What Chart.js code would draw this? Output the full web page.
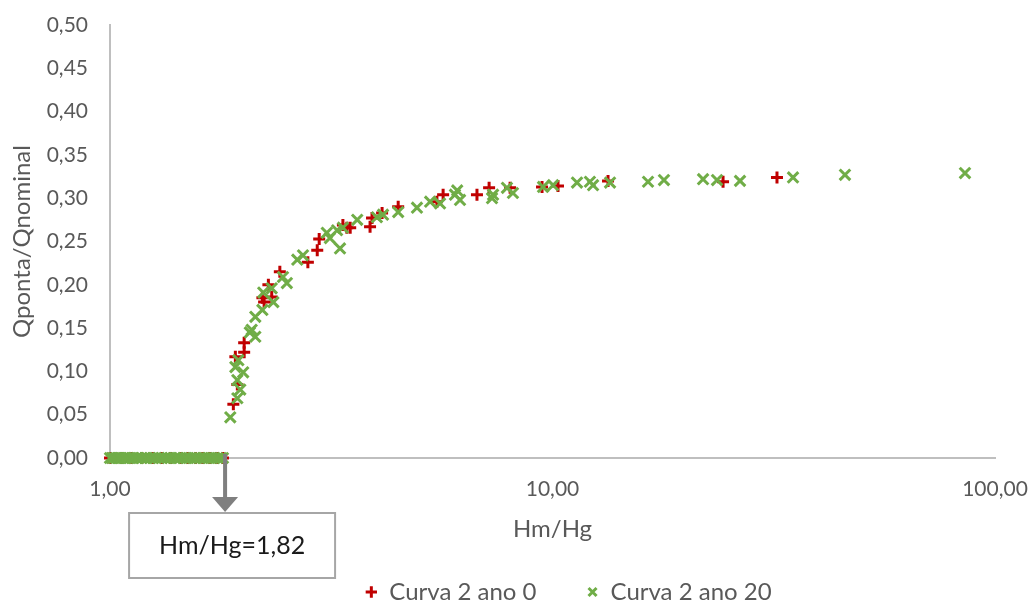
<!DOCTYPE html>
<html>
<head>
<meta charset="utf-8">
<script src="https://cdn.jsdelivr.net/npm/chart.js@4/dist/chart.umd.min.js"></script>
<style>
  body { margin: 0; background: #fff; }
</style>
</head>
<body>
<canvas id="canvas" width="1036" height="608"></canvas>
<script>
// Curva 2 ano 0 : Hm/Hg and Qponta/Qnominal
ano0X = [1.00, 1.06, 1.12, 1.18, 1.25, 1.31, 1.37, 1.45, 1.50, 1.56, 1.62, 1.68, 1.74, 1.80,
         1.90, 1.94, 1.92, 2.01, 2.01, 2.23, 2.21, 2.32, 2.28, 2.42, 2.80, 2.94, 2.97, 3.36, 3.43,
         3.49, 3.87, 3.91, 4.12, 4.48, 5.48, 5.66, 6.75, 7.19, 8.02, 9.47, 10.29, 13.35, 24.29, 32.16]
ano0Y = [0, 0, 0, 0, 0, 0, 0, 0, 0, 0, 0, 0, 0, 0,
         0.062, 0.085, 0.117, 0.122, 0.133, 0.180, 0.185, 0.186, 0.200, 0.215, 0.226, 0.240, 0.253, 0.269, 0.266,
         0.266, 0.267, 0.277, 0.283, 0.290, 0.296, 0.304, 0.304, 0.312, 0.312, 0.313, 0.314, 0.320, 0.319, 0.324]

// Curva 2 ano 20
ano20X = [1.00, 1.01, 1.02, 1.03, 1.04, 1.05, 1.06, 1.08, 1.09, 1.10, 1.12, 1.13, 1.15, 1.16, 1.18, 1.20,
          1.21, 1.23, 1.25, 1.27, 1.29, 1.31, 1.33, 1.35, 1.37, 1.40, 1.42, 1.44, 1.47, 1.49, 1.52, 1.55,
          1.57, 1.60, 1.63, 1.66, 1.69, 1.72, 1.75, 1.78, 1.80,
          1.87, 1.94, 1.97, 1.94, 2.00, 1.92, 1.95, 2.13, 2.07, 2.09, 2.13, 2.21, 2.22, 2.34, 2.32, 2.46,
          2.51, 2.65, 2.73, 3.09, 3.14, 3.31, 3.26, 3.36, 3.62, 4.01, 4.14, 4.48, 4.94, 5.29, 5.57, 6.02,
          6.09, 6.18, 7.34, 7.30, 7.89, 8.14, 9.52, 10.03, 11.36, 12.15, 12.35, 13.49, 16.44, 17.86, 21.89,
          23.54, 26.53, 34.96, 45.81, 85.54]
ano20Y = [0, 0, 0, 0, 0, 0, 0, 0, 0, 0, 0, 0, 0, 0, 0, 0,
          0, 0, 0, 0, 0, 0, 0, 0, 0, 0, 0, 0, 0, 0, 0, 0,
          0, 0, 0, 0, 0, 0, 0, 0, 0,
          0.047, 0.069, 0.079, 0.090, 0.099, 0.105, 0.113, 0.140, 0.145, 0.148, 0.163, 0.171, 0.191, 0.180, 0.196, 0.209,
          0.202, 0.229, 0.234, 0.260, 0.254, 0.242, 0.263, 0.266, 0.275, 0.278, 0.281, 0.284, 0.289, 0.296, 0.294, 0.304,
          0.309, 0.298, 0.304, 0.300, 0.312, 0.306, 0.313, 0.315, 0.318, 0.319, 0.315, 0.318, 0.319, 0.321, 0.322,
          0.321, 0.320, 0.324, 0.327, 0.329]

xTicks = [1, 10, 100]
yMin = 0
yMax = 0.5
yStep = 0.05

// Hm/Hg where the flow starts
cutValue = 1.82
cutLabel = 'Hm/Hg=1,82'

const grey = '#595959';
const fontName = 'Lato';

function toPoints(xs, ys) {
    return xs.map(function (v, i) { return { x: v, y: ys[i] }; });
}

function comma(v) {
    return Number(v).toFixed(2).replace('.', ',');
}

// arrow down from the axis to the boxed label
const cutMarker = {
    id: 'cutMarker',
    afterDraw(chart) {
        const ctx = chart.ctx;
        const x = chart.scales.x.getPixelForValue(cutValue);
        const y = chart.scales.y.getPixelForValue(0);
        ctx.save();
        ctx.fillStyle = '#7F7F7F';
        ctx.fillRect(x - 2, y - 4, 4, 43);
        ctx.beginPath();
        ctx.moveTo(x - 13, y + 39);
        ctx.lineTo(x + 13, y + 39);
        ctx.lineTo(x, y + 54);
        ctx.closePath();
        ctx.fill();
        ctx.fillStyle = '#ffffff';
        ctx.strokeStyle = '#A6A6A6';
        ctx.lineWidth = 2;
        ctx.fillRect(x - 96, y + 55, 206, 65);
        ctx.strokeRect(x - 96, y + 55, 206, 65);
        ctx.fillStyle = '#1a1a1a';
        ctx.font = '25px ' + fontName;
        ctx.textAlign = 'center';
        ctx.textBaseline = 'middle';
        ctx.fillText(cutLabel, x + 7, y + 88);
        ctx.restore();
    }
};

// legend sits a bit right of centre
const legendShift = {
    id: 'legendShift',
    afterLayout(chart) {
        chart.legend.left += 71;
        chart.legend.right += 71;
    }
};

const ctx = document.getElementById('canvas').getContext('2d');
const myChart = new Chart(ctx, {
    type: 'scatter',
    data: {
        datasets: [{
            label: 'Curva 2 ano 0',
            data: toPoints(ano0X, ano0Y),
            pointStyle: 'cross',
            pointRadius: 6,
            pointBorderWidth: 3,
            borderColor: '#C00000',
            backgroundColor: '#C00000',
            order: 1,
            clip: false
        }, {
            label: 'Curva 2 ano 20',
            data: toPoints(ano20X, ano20Y),
            pointStyle: 'crossRot',
            pointRadius: 7.5,
            pointBorderWidth: 3,
            borderColor: '#70AD47',
            backgroundColor: '#70AD47',
            order: 0,
            clip: false
        }]
    },
    options: {
        responsive: false,
        animation: false,
        layout: {
            padding: { top: 25, right: 41, left: 0, bottom: -6 }
        },
        plugins: {
            tooltip: { enabled: false },
            legend: {
                position: 'bottom',
                labels: {
                    usePointStyle: true,
                    boxWidth: 12,
                    boxHeight: 8,
                    padding: 50,
                    color: grey,
                    font: { family: fontName, size: 24 },
                    sort: function (a, b) { return a.datasetIndex - b.datasetIndex; }
                }
            }
        },
        scales: {
            x: {
                type: 'logarithmic',
                min: 1,
                max: 100,
                afterBuildTicks: function (scale) {
                    scale.ticks = xTicks.map(function (v) { return { value: v }; });
                },
                afterFit: function (scale) { scale.height = 72; },
                // tick marks hidden, their length only spaces the labels
                grid: { display: false, drawTicks: true, tickLength: 19 },
                border: { display: true, color: '#BFBFBF', width: 2 },
                ticks: {
                    color: grey,
                    padding: 0,
                    maxRotation: 0,
                    font: { family: fontName, size: 21 },
                    callback: function (value) { return comma(value); }
                },
                title: {
                    display: true,
                    text: 'Hm/Hg',
                    color: grey,
                    font: { family: fontName, size: 24 },
                    padding: { top: 0, bottom: -14 }
                }
            },
            y: {
                min: yMin,
                max: yMax,
                afterFit: function (scale) { scale.width = 110; },
                grid: { display: false, drawTicks: true, tickLength: 22 },
                border: { display: true, color: '#BFBFBF', width: 2 },
                ticks: {
                    stepSize: yStep,
                    color: grey,
                    padding: 0,
                    font: { family: fontName, size: 21 },
                    callback: function (value) { return comma(value); }
                },
                title: {
                    display: true,
                    text: 'Qponta/Qnominal',
                    color: grey,
                    font: { family: fontName, size: 24 },
                    padding: { top: 8, bottom: 0 }
                }
            }
        }
    },
    plugins: [cutMarker, legendShift]
});
</script>
</body>
</html>
